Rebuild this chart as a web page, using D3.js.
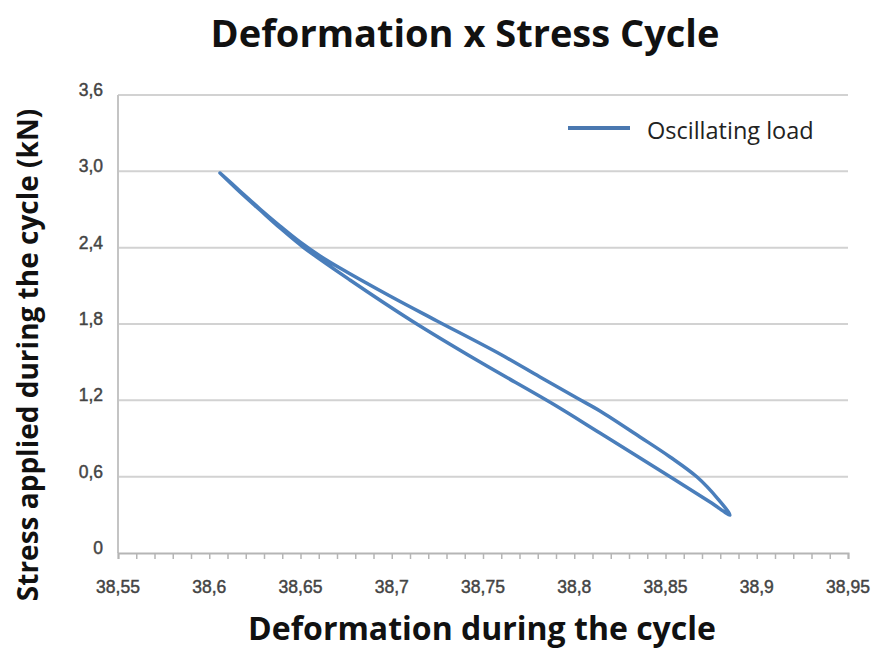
<!DOCTYPE html>
<html>
<head>
<meta charset="utf-8">
<script src="https://cdn.jsdelivr.net/npm/d3@7"></script>
<style>
  body { margin: 0; background: #fff; }
  .tick-label { font-family: "Liberation Sans", Arial, sans-serif; font-size: 17.5px; fill: #444; stroke: #444; stroke-width: 0.45px; }
  .title { font-family: "Open Sans", sans-serif; font-weight: bold; fill: #111; }
</style>
</head>
<body>
<div id="chart"></div>
<script>
// ticks
const xTicks = [38.55, 38.6, 38.65, 38.7, 38.75, 38.8, 38.85, 38.9, 38.95];
const xTickLabels = ['38,55', '38,6', '38,65', '38,7', '38,75', '38,8', '38,85', '38,9', '38,95'];
const yTicks = [0, 0.6, 1.2, 1.8, 2.4, 3.0, 3.6];
const yTickLabels = ['0', '0,6', '1,2', '1,8', '2,4', '3,0', '3,6'];

// hysteresis loop: loading branch (top -> tip), then unloading branch (tip -> top)
const deformation = [
  38.6059, 38.6168, 38.6278, 38.6388, 38.6514, 38.6771, 38.7111, 38.7484, 38.7884, 38.8141, 38.8536, 38.8744, 38.8853,
  38.8788, 38.8673, 38.8525, 38.8360, 38.8141, 38.8015, 38.7812, 38.7593, 38.7248, 38.6990, 38.6716, 38.6607,
  38.6497, 38.6388, 38.6278, 38.6168, 38.6059
];
const stress = [
  2.987, 2.838, 2.696, 2.555, 2.405, 2.146, 1.824, 1.501, 1.171, 0.943, 0.590, 0.401, 0.299,
  0.424, 0.597, 0.755, 0.912, 1.116, 1.218, 1.383, 1.564, 1.824, 2.020, 2.240, 2.335,
  2.445, 2.570, 2.704, 2.846, 2.987
];
const seriesName = 'Oscillating load';

const width = 880;
const height = 653;
const margin = {top: 95, right: 32, bottom: 100, left: 118};

const svg = d3.select('#chart')
  .append('svg')
    .attr('width', width)
    .attr('height', height);

const x = d3.scaleLinear()
  .domain([38.55, 38.95])
  .range([margin.left, width - margin.right]);
const y = d3.scaleLinear()
  .domain([0, 3.6])
  .range([height - margin.bottom, margin.top]);

// gridlines
svg.append('g')
  .selectAll('line')
  .data(yTicks.slice(1))
  .join('line')
    .attr('x1', margin.left)
    .attr('x2', width - margin.right)
    .attr('y1', d => y(d))
    .attr('y2', d => y(d))
    .attr('stroke', '#d2d2d2')
    .attr('stroke-width', 2);

// y axis line
svg.append('line')
  .attr('x1', margin.left).attr('x2', margin.left)
  .attr('y1', y(3.6)).attr('y2', y(0))
  .attr('stroke', '#c4c4c4')
  .attr('stroke-width', 2);

// y tick labels
svg.append('g')
  .selectAll('text')
  .data(yTicks)
  .join('text')
    .attr('class', 'tick-label')
    .attr('x', margin.left - 15)
    .attr('y', d => y(d) + 1)
    .attr('text-anchor', 'end')
    .text((d, i) => yTickLabels[i]);

// x axis with minor ticks
const minorTicks = d3.range(0, 41).map(i => 38.55 + i * 0.01);
svg.append('g')
  .attr('transform', `translate(0, ${y(0)})`)
  .call(d3.axisBottom(x).tickValues(minorTicks).tickSize(6).tickFormat(''))
  .call(g => g.select('.domain').attr('stroke', '#b5b5b5').attr('stroke-width', 2))
  .call(g => g.selectAll('.tick line').attr('stroke', '#b5b5b5').attr('stroke-width', 1.5));

svg.append('g')
  .selectAll('text')
  .data(xTicks)
  .join('text')
    .attr('class', 'tick-label')
    .attr('x', d => x(d))
    .attr('y', y(0) + 40)
    .attr('text-anchor', 'middle')
    .text((d, i) => xTickLabels[i]);

// the loop
const points = deformation.map((d, i) => [d, stress[i]]);
svg.append('path')
  .datum(points)
  .attr('fill', 'none')
  .attr('stroke', '#4a7ebb')
  .attr('stroke-width', 3.5)
  .attr('stroke-linejoin', 'round')
  .attr('stroke-linecap', 'round')
  .attr('d', d3.line()
    .x(d => x(d[0]))
    .y(d => y(d[1]))
    .curve(d3.curveCatmullRom));

// legend
svg.append('line')
  .attr('x1', 568).attr('x2', 630)
  .attr('y1', 128).attr('y2', 128)
  .attr('stroke', '#4a78b0')
  .attr('stroke-width', 4);
svg.append('text')
  .attr('x', 647)
  .attr('y', 139)
  .attr('font-family', '"Open Sans", sans-serif')
  .attr('font-size', 23.5)
  .attr('fill', '#222')
  .text(seriesName);

// titles
svg.append('text')
  .attr('class', 'title')
  .attr('x', 465)
  .attr('y', 47)
  .attr('text-anchor', 'middle')
  .attr('font-size', 38)
  .text('Deformation x Stress Cycle');

svg.append('text')
  .attr('class', 'title')
  .attr('x', 482)
  .attr('y', 640)
  .attr('text-anchor', 'middle')
  .attr('font-size', 32)
  .text('Deformation during the cycle');

svg.append('text')
  .attr('class', 'title')
  .attr('transform', 'translate(38, 355) rotate(-90)')
  .attr('text-anchor', 'middle')
  .attr('font-size', 28)
  .text('Stress applied during the cycle (kN)');
</script>
</body>
</html>
